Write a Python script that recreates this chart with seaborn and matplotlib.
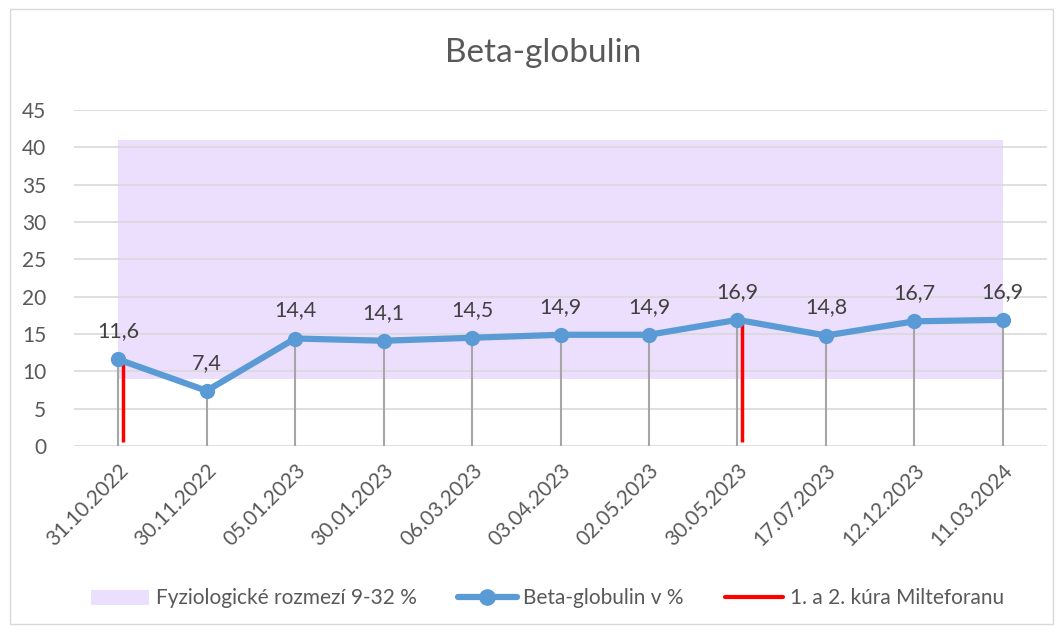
import matplotlib.pyplot as plt
import seaborn as sns
import pandas as pd
from matplotlib.patches import Patch, Rectangle
from matplotlib.lines import Line2D

dates = ["31.10.2022", "30.11.2022", "05.01.2023", "30.01.2023", "06.03.2023",
         "03.04.2023", "02.05.2023", "30.05.2023", "17.07.2023", "12.12.2023", "11.03.2024"]
values = [11.6, 7.4, 14.4, 14.1, 14.5, 14.9, 14.9, 16.9, 14.8, 16.7, 16.9]
range_low = 9
range_width = 32
treatment_dates = ["31.10.2022", "30.05.2023"]

sns.set_style("white")
plt.rcParams['font.family'] = ['Lato', 'DejaVu Sans']

df = pd.DataFrame({"date": dates, "value": values})
pos = list(range(len(dates)))

fig, ax = plt.subplots(figsize=(10.63, 6.3), dpi=100)
fig.subplots_adjust(left=0.0696, right=0.985, top=0.8254, bottom=0.292)

# physiological range band (stacked: 9 + 32)
ax.fill_between(pos, range_low, range_low + range_width, color="#ECDFFD", zorder=0, linewidth=0)
for yv in range(0, 50, 5):
    ax.axhline(yv, color="#D9D9D9", lw=1.2, zorder=1)

# drop lines
ax.vlines(pos, 0, values, color="#A6A6A6", lw=1.5, zorder=2)

# treatment markers
tpos = [dates.index(d) for d in treatment_dates]
tval = [values[i] for i in tpos]
ax.vlines([p + 0.05 for p in tpos], 0.5, tval, color="#FF0000", lw=2.5, zorder=3)

sns.lineplot(x=pos, y=values, ax=ax, color="#5B9BD5", lw=4.5, marker="o",
             markersize=11, markeredgewidth=0, zorder=4)

for p, v in zip(pos, values):
    ax.annotate(f"{v:.1f}".replace(".", ","), (p, v), xytext=(0, 13),
                textcoords="offset points", ha="center", va="bottom",
                fontsize=15.5, color="#404040")

ax.set_xlim(-0.5, len(dates) - 0.5)
ax.set_ylim(0, 45)
ax.set_yticks(range(0, 50, 5))
ax.set_xticks(pos)
ax.set_xticklabels(dates, rotation=45, ha="right", rotation_mode="anchor")
ax.tick_params(axis="both", labelsize=15, colors="#595959", length=0)
ax.tick_params(axis="x", pad=10)
ax.tick_params(axis="y", pad=20)
for s in ax.spines.values():
    s.set_visible(False)
ax.set_xlabel("")
ax.set_ylabel("")

fig.suptitle("Beta-globulin", x=0.511, y=0.94, fontsize=24, color="#595959")

handles = [Patch(facecolor="#ECDFFD", edgecolor="none"),
           Line2D([0], [0], color="#5B9BD5", lw=4.5, marker="o", markersize=11),
           Line2D([0], [0], color="#FF0000", lw=3)]
labels = ["Fyziologické rozmezí 9-32 %", "Beta-globulin v %", "1. a 2. kúra Milteforanu"]
fig.legend(handles, labels, loc="center", bbox_to_anchor=(0.515, 0.05), ncol=3,
           frameon=False, fontsize=15, labelcolor="#595959", handlelength=2.8,
           columnspacing=2.0, handletextpad=0.3)

fig.patches.append(Rectangle((0.009, 0.01), 0.982, 0.975, transform=fig.transFigure,
                             fill=False, edgecolor="#D9D9D9", lw=1))

fig.savefig("out.png", dpi=100)
